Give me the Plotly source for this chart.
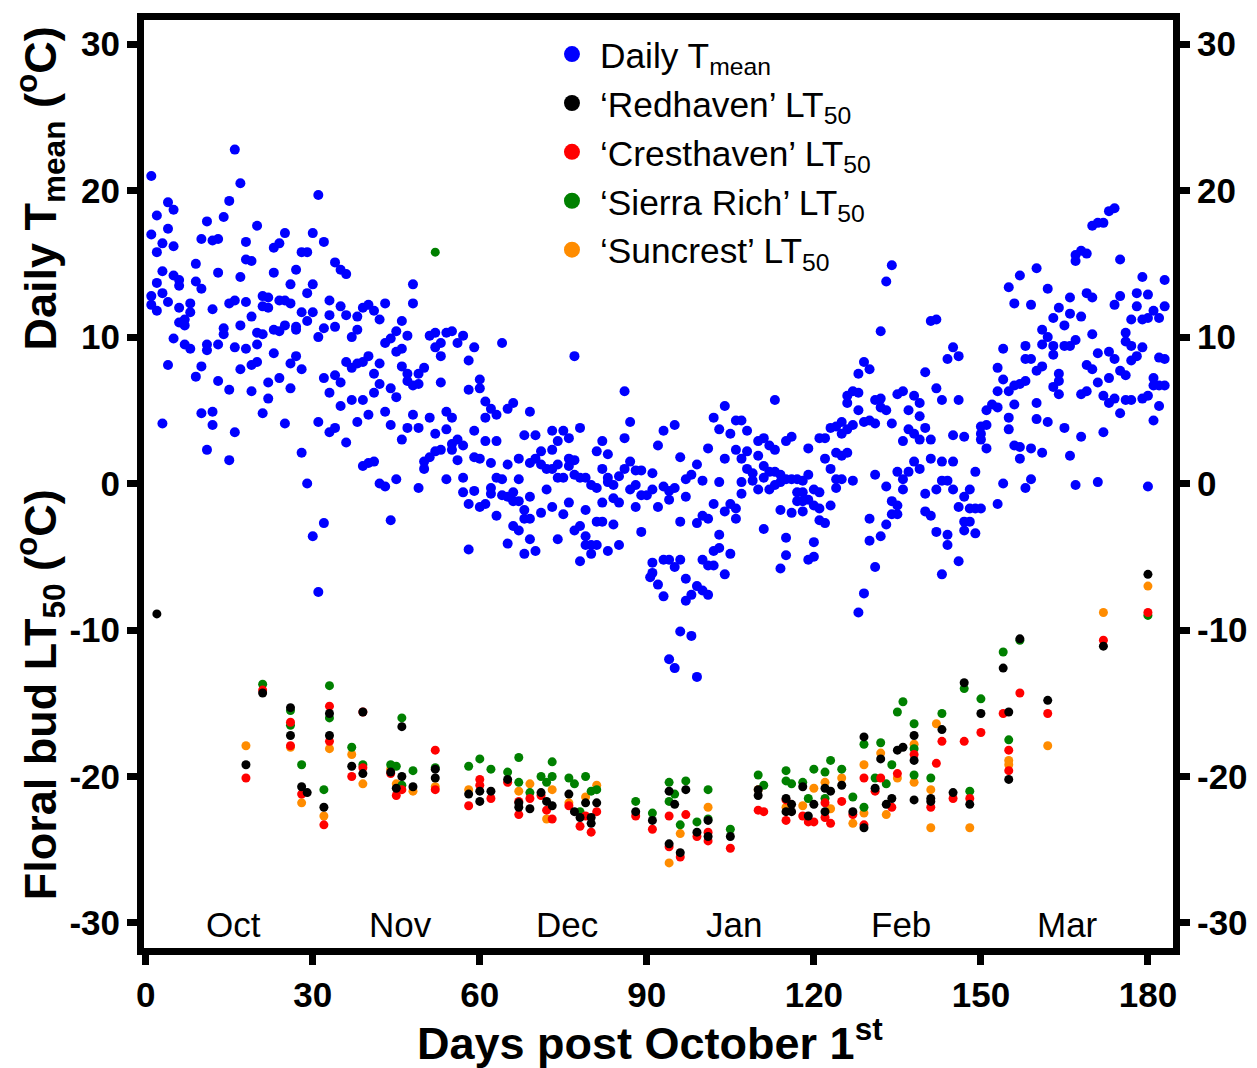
import plotly.graph_objects as go

# ---------------- data ----------------
# Daily mean air temperature (several seasons overlaid): (day post Oct 1, degC)
tmean_points = [
    # days 0-46
    (16,22.8),(1,21.0),(17,20.5),(31,19.7),(4,19.2),(5,18.7),(15,19.3),(2,18.3),(14,18.2),(11,17.9),
    (20,17.6),(1,17.0),(4,17.4),(10,16.7),(12,16.6),(13,16.7),(18,16.5),(25,17.1),(30,17.1),(24,16.4),
    (23,16.1),(32,16.5),(3,16.4),(5,16.2),(2,15.8),(28,15.8),(29,15.8),(18,15.3),(19,15.2),(9,15.0),
    (34,15.1),(35,14.6),(36,14.3),(3,14.5),(13,14.4),(23,14.4),(27,14.6),(5,14.2),(6,13.9),(6,13.5),
    (17,14.1),(2,13.7),(9,13.8),(10,13.3),(26,13.6),(30,13.6),(3,13.0),(1,12.8),(4,12.4),(1,12.2),
    (2,11.8),(6,12.0),(8,12.3),(8,11.7),(12,11.9),(15,12.3),(16,12.5),(18,12.4),(21,12.8),(22,12.7),
    (21,12.1),(22,12.0),(24,12.5),(25,12.5),(26,12.3),(29,13.0),(28,11.7),(30,11.7),(29,11.1),(33,12.5),
    (35,12.1),(33,11.5),(36,11.5),(38,11.4),(39,12.0),(40,12.2),(41,11.8),(43,12.3),(42,11.2),(6,11.0),
    (7,11.2),(7,10.8),(14,10.6),(14,10.2),(17,10.8),(19,11.4),(20,10.3),(21,10.2),(23,10.5),(24,10.4),
    (25,10.8),(27,10.7),(27,10.5),(31,10.0),(32,10.6),(34,10.7),(38,10.5),(37,10.0),(43,9.6),(44,9.9),
    (45,10.4),(45,9.0),(5,9.9),(7,9.5),(8,9.2),(11,9.5),(11,9.1),(13,9.5),(16,9.3),(18,9.2),
    (20,9.5),(23,8.9),(4,8.1),(10,8.0),(9,7.3),(13,7.0),(15,6.4),(17,7.8),(19,8.1),(20,8.3),
    (19,6.3),(22,6.9),(24,7.2),(26,8.2),(27,8.7),(26,6.5),(28,7.8),(22,5.8),(21,4.8),(32,7.2),
    (33,6.2),(34,7.4),(35,6.9),(36,8.3),(37,7.9),(38,8.2),(39,8.3),(40,8.7),(42,8.2),(41,7.5),
    (42,6.8),(41,6.2),(44,6.5),(45,5.9),(37,5.7),(39,5.7),(35,5.3),(40,4.7),(38,4.2),(43,4.9),
    (44,4.0),(46,3.0),(31,4.2),(33,3.5),(34,3.8),(36,2.8),(39,1.2),(40,1.4),(41,1.5),(42,0.0),
    (43,-0.2),(45,0.3),(44,-2.5),(25,4.1),(10,4.8),(12,4.9),(12,4.0),(16,3.5),(3,4.1),(11,2.3),
    (15,1.6),(28,2.1),(29,0.0),(32,-2.7),(30,-3.6),(31,-7.4),
    # days 45-91
    (48,13.6),(48,12.3),(46,11.1),(47,10.1),(46,9.2),(46,8.0),(47,7.5),(47,7.0),(48,6.7),(49,6.8),
    (49,7.5),(50,7.9),(51,10.1),(52,10.3),(54,10.3),(55,10.4),(52,9.3),(53,9.6),(53,8.7),(56,9.6),
    (57,10.1),(59,9.3),(58,8.4),(64,9.6),(53,6.9),(58,6.4),(60,7.1),(60,6.5),(61,5.6),(62,5.1),
    (63,4.7),(61,4.5),(65,5.1),(66,5.5),(69,4.9),(77,8.7),(86,6.3),(87,4.2),(86,3.1),(48,4.7),
    (47,3.8),(49,3.8),(51,4.5),(52,3.4),(54,4.9),(55,4.5),(54,3.7),(49,-0.3),(50,1.5),(50,1.0),
    (51,1.8),(52,2.2),(53,2.3),(55,2.7),(55,2.3),(56,3.0),(57,2.6),(56,1.6),(59,3.6),(59,1.8),
    (60,1.7),(61,2.9),(63,2.9),(62,1.4),(54,0.3),(57,0.4),(57,-0.6),(58,-1.4),(59,-0.5),(60,-1.6),
    (61,-1.4),(62,-0.3),(62,-0.7),(63,0.4),(64,0.3),(63,-2.2),(64,-0.8),(65,-0.9),(66,-0.6),(66,-1.2),
    (67,-1.2),(65,1.3),(67,1.7),(67,0.3),(68,3.3),(70,3.3),(69,1.4),(70,1.7),(71,2.2),(71,1.3),
    (72,1.0),(73,3.6),(73,2.3),(74,2.9),(75,3.6),(76,3.1),(78,3.8),(73,1.0),(74,1.3),(74,0.4),
    (75,0.4),(76,1.7),(76,1.2),(77,1.6),(77,0.6),(78,0.4),(79,0.4),(80,-0.1),(81,-0.3),(72,-0.4),
    (69,-0.9),(68,-1.8),(68,-2.4),(71,-2.0),(73,-1.6),(75,-2.1),(76,-1.3),(79,-1.8),(77,-3.2),(78,-2.9),
    (79,-3.6),(79,-4.2),(80,-4.2),(80,-4.8),(81,-4.2),(81,-2.6),(82,-2.6),(82,-1.3),(83,-4.6),(84,-2.8),
    (85,-4.2),(84,-1.0),(85,-1.3),(83,0.1),(84,-0.1),(82,1.0),(83,0.4),(81,2.2),(82,2.9),(83,2.0),
    (85,0.5),(86,1.0),(87,1.5),(87,-0.4),(88,0.9),(88,-0.1),(88,-1.6),(89,-0.8),(89,0.9),(90,-0.8),
    (89,-3.3),(58,-4.5),(65,-4.1),(66,-2.9),(67,-3.2),(68,-4.8),(69,-3.8),(70,-4.6),(74,-3.8),(78,-5.3),
    (69,-2.4),
    # days 91-137
    (134,14.9),(133,13.8),(132,10.4),(129,8.3),(128,7.5),(130,7.8),(126,6.0),(127,6.3),(128,6.2),(126,5.5),
    (128,5.0),(131,5.7),(132,5.8),(132,5.2),(133,5.0),(129,4.2),(130,4.3),(131,4.1),(134,4.1),(135,6.1),
    (136,6.3),(137,5.0),(137,3.7),(136,2.9),(113,5.7),(104,5.3),(102,4.5),(103,3.7),(105,3.4),(106,4.3),
    (107,4.3),(108,3.6),(95,4.0),(93,3.6),(92,2.6),(96,1.8),(99,1.3),(101,2.4),(104,1.7),(106,2.3),
    (107,1.7),(108,2.2),(110,2.9),(111,3.1),(112,2.6),(113,2.3),(115,2.9),(116,3.2),(110,1.9),(108,1.0),
    (109,0.7),(109,0.2),(110,-0.4),(111,0.4),(111,1.2),(112,0.8),(113,0.8),(114,0.6),(112,-0.4),(113,-0.1),
    (114,0.1),(115,0.3),(116,0.3),(117,0.3),(118,0.2),(117,-0.6),(118,-0.6),(117,-1.2),(118,-1.2),(116,-2.0),
    (118,-1.9),(119,0.6),(119,-1.1),(120,-0.4),(121,-0.6),(120,-1.5),(121,-1.7),(121,-2.5),(122,-2.7),(123,-1.5),
    (114,-1.8),(114,-5.8),(115,-3.7),(115,-4.9),(119,-5.2),(120,-5.0),(120,-4.0),(111,-3.1),(119,2.4),(121,3.1),
    (122,3.1),(122,1.7),(123,1.0),(123,3.8),(124,3.9),(125,4.2),(125,3.4),(126,3.7),(127,4.0),(124,2.1),
    (125,1.9),(126,2.1),(124,0.3),(125,0.3),(124,-0.3),(127,0.2),(131,0.6),(135,0.8),(136,0.3),(136,-0.4),
    (133,-0.2),(134,-1.2),(135,-1.5),(134,-2.1),(135,-2.1),(133,-2.8),(130,-2.4),(132,-3.6),(130,-3.9),(131,-5.7),
    (129,-7.5),(128,-8.8),(91,0.7),(91,-0.4),(93,-0.2),(94,-0.5),(94,-1.1),(95,-0.3),(92,-1.6),(97,0.3),
    (98,0.6),(97,-0.9),(100,0.2),(102,-1.4),(104,-1.9),(105,-1.4),(106,-1.7),(106,-2.4),(103,0.1),(107,0.1),
    (107,-0.7),(96,-2.6),(99,-2.7),(100,-2.2),(101,-2.4),(103,-3.5),(102,-4.6),(103,-4.4),(105,-4.8),(104,-6.2),
    (101,-5.6),(102,-5.6),(100,-5.2),(99,-7.0),(100,-7.3),(101,-7.6),(97,-6.5),(98,-7.6),(97,-8.0),(96,-5.2),
    (95,-5.7),(93,-5.2),(94,-5.2),(91,-5.4),(91,-6.1),(90.6,-6.4),(92,-6.9),(93,-7.7),(96,-10.1),(98,-10.4),
    (94,-12.0),(95,-12.6),(99,-13.2),
    # days 137-183
    (174,18.8),(173,18.6),(170,17.6),(171,17.8),(172,17.8),(167,15.2),(167,15.6),(168,15.9),(169,15.7),(175,15.3),
    (160,14.7),(157,14.2),(155,13.4),(162,13.3),(156,12.3),(159,12.2),(166,12.7),(169,13.0),(170,12.7),(179,14.1),
    (183,13.9),(178,13.0),(180,12.9),(175,12.8),(174,12.2),(178,12.1),(183,12.1),(181,11.8),(179,11.2),(180,11.3),
    (182,11.3),(177,11.2),(164,12.0),(163,11.3),(166,11.6),(168,11.4),(165,10.8),(161,10.5),(162,10.0),(161,9.5),
    (163,9.4),(163,8.8),(165,9.4),(166,9.4),(167,9.8),(170,10.2),(176,10.3),(176,9.7),(177,9.4),(179,9.3),
    (178,8.7),(177,8.4),(173,9.0),(174,8.5),(171,8.9),(182,8.6),(183,8.5),(169,8.1),(170,7.8),(175,7.7),
    (176,7.4),(173,7.2),(171,6.9),(168,6.1),(169,6.3),(172,6.0),(173,5.5),(174,5.8),(176,5.7),(177,5.7),
    (179,5.8),(180,6.0),(181,7.2),(181,6.7),(182,6.7),(183,6.7),(182,5.3),(175,4.8),(181,4.3),(172,3.5),
    (168,3.2),(165,3.8),(162,4.2),(160,4.4),(160,5.5),(164,7.5),(164,7.0),(164,6.1),(163,6.6),(161,8.0),
    (160,7.7),(158,9.4),(158,8.5),(159,8.5),(154,9.2),(153,7.9),(154,7.1),(153,6.3),(155,6.3),(156,6.7),
    (157,6.8),(158,7.0),(156,5.4),(155,4.5),(155,3.7),(151,5.0),(152,5.4),(153,5.2),(150,3.9),(151,4.0),
    (150,3.4),(150,3.0),(151,2.4),(156,2.6),(157,2.5),(159,2.4),(161,2.1),(157,1.7),(166,1.9),(154,0.0),
    (158,-0.3),(159,0.3),(167,-0.1),(171,0.1),(180,-0.2),(153,-1.4),(148,-0.4),(147,-0.9),(149,0.8),(146,-1.6),
    (148,-1.7),(149,-1.7),(150,-1.7),(147,-2.6),(148,-2.6),(147,-3.2),(149,-3.4),(144,-3.5),(144,-4.2),(142,-3.3),
    (146,-5.3),(143,-6.2),(140,-1.9),(141,-2.2),(142,-0.4),(143,0.2),(144,0.2),(145,-0.4),(140,-0.7),(137,0.8),
    (138,1.5),(139,1.0),(141,1.7),(143,1.5),(145,1.5),(139,3.0),(141,3.0),(145,3.3),(147,3.2),(140,3.8),
    (138,3.4),(139,4.6),(139,5.5),(138,6.0),(142,6.5),(143,5.7),(146,5.7),(140,7.6),(144,8.5),(146,8.7),
    (145,9.3),(141,11.1),(142,11.2),
]
tmean_days = [p[0] for p in tmean_points]
tmean_vals = [p[1] for p in tmean_points]

# Floral bud LT50 (day, degC)
redhaven = [
    (2,-8.9),(18,-19.2),(21,-14.3),(26,-15.3),(26,-17.2),(28,-20.7),(29,-21.1),(32,-22.1),(33,-15.7),(33,-17.2),
    (37,-19.3),(39,-15.6),(39,-19.8),(44,-19.7),(45,-20.8),(46,-16.6),(46,-20.0),(48,-20.7),(52,-19.5),(52,-20.1),
    (58,-21.2),(60,-21.0),(60,-21.7),(62,-21.0),(65,-20.2),(67,-21.8),(67,-22.1),(69,-22.2),(71,-21.1),(72,-21.7),
    (73,-22.0),(76,-21.2),(77,-22.4),(78,-22.8),(79,-21.8),(80,-22.8),(80,-23.2),(81,-21.8),(88,-22.4),(91,-23.0),
    (94,-21.0),(94,-24.6),(95,-21.9),(96,-25.2),(97,-20.9),(99,-23.8),(101,-23.0),(101,-24.1),(105,-24.1),(110,-20.9),
    (110,-21.3),(115,-21.5),(115,-22.4),(116,-21.9),(116,-22.4),(118,-20.7),(119,-22.7),(120,-21.9),(122,-20.8),(122,-22.4),
    (123,-21.0),(125,-20.6),(127,-22.4),(129,-17.3),(129,-23.5),(131,-20.8),(132,-18.8),(133,-21.9),(134,-21.5),(135,-18.2),
    (136,-18.0),(138,-17.2),(138,-18.9),(138,-21.6),(141,-21.5),(141,-21.7),(143,-16.8),(145,-21.1),(147,-13.6),(148,-21.9),
    (150,-15.7),(154,-12.6),(155,-15.6),(155,-20.2),(157,-10.6),(162,-14.8),(172,-11.1),(180,-6.2),
]
cresthaven = [
    (18,-20.1),(21,-14.1),(26,-16.3),(26,-17.9),(28,-21.2),(32,-23.3),(33,-15.2),(33,-17.6),(37,-20.0),(39,-15.6),
    (39,-19.4),(44,-19.8),(45,-21.3),(46,-20.9),(52,-18.2),(52,-20.9),(58,-22.0),(60,-20.2),(60,-20.6),(62,-21.5),
    (65,-20.4),(67,-21.7),(67,-22.6),(69,-21.5),(71,-21.3),(72,-22.3),(73,-22.9),(76,-22.0),(78,-23.4),(79,-22.7),
    (80,-23.8),(81,-22.4),(88,-22.7),(91,-23.6),(94,-22.7),(94,-24.8),(96,-25.5),(97,-22.6),(99,-24.1),(101,-23.8),
    (101,-24.4),(105,-24.9),(110,-22.3),(111,-22.4),(115,-21.6),(115,-23.0),(118,-22.7),(119,-23.1),(120,-23.1),(122,-21.8),
    (122,-22.8),(123,-23.2),(125,-21.7),(127,-22.6),(129,-20.1),(129,-23.3),(131,-21.0),(132,-20.1),(134,-22.1),(135,-19.8),
    (138,-18.5),(141,-22.1),(142,-19.1),(143,-17.6),(145,-21.5),(147,-17.6),(148,-21.5),(150,-17.0),(154,-15.7),(155,-18.2),
    (155,-19.6),(157,-14.3),(162,-15.7),(172,-10.7),(180,-8.8),
]
sierra_rich = [
    (21,-13.7),(26,-15.5),(26,-16.5),(28,-19.2),(32,-20.9),(33,-13.8),(33,-16.0),(37,-18.0),(39,-19.2),(44,-19.2),
    (45,-19.3),(46,-16.0),(46,-20.6),(48,-19.6),(52,15.8),(52,-19.4),(58,-19.3),(60,-18.8),(62,-19.5),(65,-19.7),
    (67,-18.7),(67,-20.4),(69,-21.1),(71,-20.0),(72,-20.4),(73,-19.0),(73,-20.0),(76,-20.1),(77,-20.5),(78,-22.4),
    (79,-20.0),(80,-21.0),(81,-20.9),(88,-21.7),(91,-22.5),(94,-20.4),(94,-21.7),(95,-21.2),(96,-23.3),(97,-20.3),
    (99,-23.1),(101,-20.9),(101,-22.9),(105,-23.6),(110,-19.9),(111,-20.6),(115,-19.6),(115,-20.3),(116,-20.5),(118,-20.4),
    (119,-21.5),(120,-19.5),(122,-19.7),(122,-21.5),(123,-18.9),(125,-19.5),(127,-21.4),(129,-17.8),(129,-22.1),(131,-20.1),
    (132,-17.7),(133,-20.5),(134,-19.2),(135,-15.6),(136,-14.9),(138,-16.4),(138,-18.1),(138,-19.9),(141,-20.1),(143,-15.7),
    (147,-14.0),(148,-21.0),(150,-14.7),(154,-11.5),(155,-17.5),(157,-10.7),(180,-9.0),
]
suncrest = [
    (18,-17.9),(26,-18.0),(28,-21.8),(32,-22.7),(33,-18.1),(37,-18.5),(39,-20.5),(44,-19.5),(45,-20.5),(48,-21.0),
    (52,-20.7),(58,-20.9),(67,-21.0),(69,-20.5),(72,-22.9),(73,-20.9),(76,-21.8),(79,-21.4),(81,-20.6),(94,-25.9),
    (96,-23.9),(101,-22.1),(110,-20.9),(115,-22.1),(118,-22.0),(120,-20.8),(122,-20.4),(123,-22.2),(125,-20.1),(127,-23.2),
    (129,-19.2),(129,-22.5),(132,-18.4),(133,-22.6),(135,-20.1),(138,-17.8),(138,-20.4),(141,-20.9),(141,-23.5),(142,-16.4),
    (148,-23.5),(155,-18.9),(155,-19.2),(162,-17.9),(172,-8.8),(180,-7.0),
]

x_ticks = [0, 30, 60, 90, 120, 150, 180]
y_ticks = [-30, -20, -10, 0, 10, 20, 30]
y_ticktext = ["-30", "-20", "-10", "0", "10", "20", "30"]
months = ["Oct", "Nov", "Dec", "Jan", "Feb", "Mar"]
month_mid_days = [15.7, 45.7, 75.7, 105.7, 135.7, 165.6]

FONT = "Liberation Sans, Arial, sans-serif"
BLUE, BLACK, RED, GREEN, ORANGE = "#0000FF", "#000000", "#FF0000", "#008000", "#FF8C00"

fig = go.Figure()

# data traces (draw order: blue, orange, green, red, black)
fig.add_trace(go.Scatter(x=tmean_days, y=tmean_vals, mode="markers",
                         marker=dict(color=BLUE, size=10), showlegend=False,
                         legendgroup="t"))
for name, pts, col, grp in [("Suncrest", suncrest, ORANGE, "su"),
                            ("Sierra Rich", sierra_rich, GREEN, "si"),
                            ("Cresthaven", cresthaven, RED, "cr"),
                            ("Redhaven", redhaven, BLACK, "rh")]:
    fig.add_trace(go.Scatter(x=[p[0] for p in pts], y=[p[1] for p in pts], mode="markers",
                             marker=dict(color=col, size=9), showlegend=False,
                             legendgroup=grp))

# legend entries
legend_items = [("Daily T<sub>mean</sub>", BLUE, "t"),
                ("\u2018Redhaven\u2019 LT<sub>50</sub>", BLACK, "rh"),
                ("\u2018Cresthaven\u2019 LT<sub>50</sub>", RED, "cr"),
                ("\u2018Sierra Rich\u2019 LT<sub>50</sub>", GREEN, "si"),
                ("\u2018Suncrest\u2019 LT<sub>50</sub>", ORANGE, "su")]
for i, (lbl, col, grp) in enumerate(legend_items):
    fig.add_trace(go.Scatter(x=[None], y=[None], mode="markers", name=lbl,
                             marker=dict(color=col, size=16), legendgroup=grp,
                             legendrank=i + 1, showlegend=True))

# invisible trace to carry the right-hand axis
fig.add_trace(go.Scatter(x=[None], y=[None], yaxis="y2", showlegend=False, hoverinfo="skip"))

tickfont = dict(family=FONT, size=35, color="black", weight="bold")

fig.update_layout(
    width=1249, height=1060,
    margin=dict(l=136, r=84, t=5, b=120),
    paper_bgcolor="white", plot_bgcolor="white",
    font=dict(family=FONT, color="black"),
    xaxis=dict(range=[-0.31, 184.5], tickmode="array", tickvals=x_ticks,
               ticks="outside", ticklen=10, tickwidth=7, tickcolor="black",
               showline=True, linewidth=7, linecolor="black", mirror=True,
               showgrid=False, zeroline=False, tickfont=tickfont),
    yaxis=dict(range=[-31.71, 31.65], tickmode="array", tickvals=y_ticks, ticktext=y_ticktext,
               ticks="outside", ticklen=10, tickwidth=7, tickcolor="black",
               showline=True, linewidth=7, linecolor="black", mirror=True,
               showgrid=False, zeroline=False, tickfont=tickfont),
    yaxis2=dict(range=[-31.71, 31.65], overlaying="y", side="right", tickmode="array",
                tickvals=y_ticks, ticktext=y_ticktext,
                ticks="outside", ticklen=10, tickwidth=7, tickcolor="black",
                showline=True, linewidth=7, linecolor="black",
                showgrid=False, zeroline=False, tickfont=tickfont),
    legend=dict(x=0.3887, y=0.995, xanchor="left", yanchor="top",
                font=dict(family=FONT, size=35.3, color="black"),
                bgcolor="rgba(0,0,0,0)", tracegroupgap=0, itemsizing="trace",
                itemwidth=46),
)

title_font = dict(family=FONT, size=45, color="black", weight="bold")
annotations = [
    dict(text="Daily T<sub>mean</sub> (<sup>o</sup>C)", xref="paper", yref="paper",
         x=-0.1015, y=0.818, textangle=-90, showarrow=False, font=title_font,
         xanchor="center", yanchor="middle"),
    dict(text="Floral bud LT<sub>50</sub> (<sup>o</sup>C)", xref="paper", yref="paper",
         x=-0.1015, y=0.273, textangle=-90, showarrow=False, font=title_font,
         xanchor="center", yanchor="middle"),
    dict(text="Days post October 1<sup>st</sup>", xref="paper", yref="paper",
         x=0.4917, y=-0.099, showarrow=False, font=title_font,
         xanchor="center", yanchor="middle"),
]
for m, d in zip(months, month_mid_days):
    annotations.append(dict(text=m, x=d, y=-30.1, xref="x", yref="y", showarrow=False,
                            font=dict(family=FONT, size=35, color="black"),
                            xanchor="center", yanchor="middle"))
fig.update_layout(annotations=annotations)

fig.write_html("out.html")
